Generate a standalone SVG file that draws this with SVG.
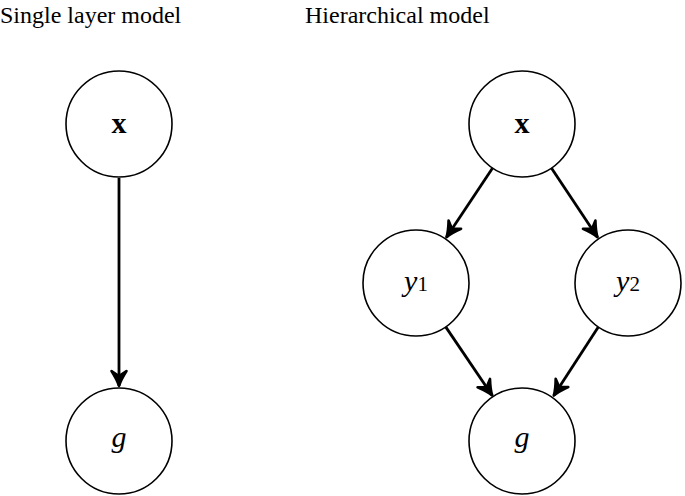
<svg xmlns="http://www.w3.org/2000/svg" width="685" height="496" viewBox="0 0 685 496">
<style>
.node{fill:#fff;stroke:#000;stroke-width:1.6}
.edge{fill:none;stroke:#000;stroke-width:2.8}
text{font-family:'Liberation Serif','Times New Roman','DejaVu Serif',serif;fill:#000}
.title{font-size:24px}
.lbl{font-size:30px;text-anchor:middle}
.bold{font-weight:bold}
.it{font-style:italic}
</style>
<defs>
<marker id="arr" viewBox="-18 -10 20 20" markerWidth="20" markerHeight="20" refX="0" refY="0" orient="auto" markerUnits="userSpaceOnUse">
<path d="M-15,-7.5 Q-6,-1.8 0,0 Q-6,1.8 -15,7.5 L-10,0 Z" fill="#000" stroke="#000" stroke-width="2.6" stroke-linecap="round" stroke-linejoin="round"/>
</marker>
</defs>
<text class="title" x="0" y="23">Single layer model</text>
<text class="title" x="305" y="23">Hierarchical model</text>
<g id="edges">
<line class="edge" x1="119" y1="178" x2="119" y2="386" marker-end="url(#arr)"/>
<line class="edge" x1="492.6" y1="168" x2="446.5" y2="237.2" marker-end="url(#arr)"/>
<line class="edge" x1="551.4" y1="168" x2="597.5" y2="237.2" marker-end="url(#arr)"/>
<line class="edge" x1="445.7" y1="326.9" x2="492.2" y2="395.5" marker-end="url(#arr)"/>
<line class="edge" x1="598.3" y1="326.9" x2="553.8" y2="395.5" marker-end="url(#arr)"/>
</g>
<g id="single_x"><circle class="node" cx="119" cy="124" r="53"/><text class="lbl bold" x="119" y="133">x</text></g>
<g id="single_g"><circle class="node" cx="119" cy="441" r="53"/><text class="lbl it" x="119" y="447">g</text></g>
<g id="hier_x"><circle class="node" cx="522" cy="124" r="53"/><text class="lbl bold" x="522" y="133">x</text></g>
<g id="hier_y1"><circle class="node" cx="416" cy="283" r="53"/><text class="lbl" x="416" y="291"><tspan class="it">y</tspan><tspan font-size="21">1</tspan></text></g>
<g id="hier_y2"><circle class="node" cx="628" cy="283" r="53"/><text class="lbl" x="628" y="291"><tspan class="it">y</tspan><tspan font-size="21">2</tspan></text></g>
<g id="hier_g"><circle class="node" cx="522" cy="441" r="53"/><text class="lbl it" x="522" y="447">g</text></g>
</svg>
